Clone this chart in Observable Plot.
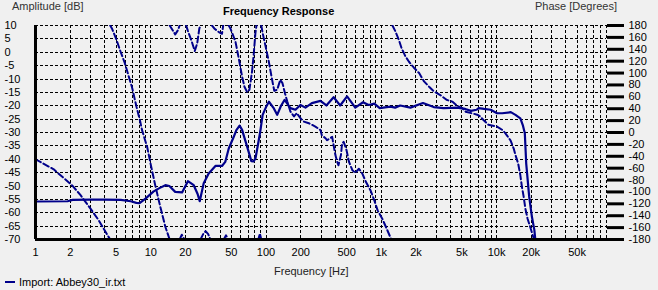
<!DOCTYPE html>
<html>
<head>
<meta charset="utf-8">
<script src="https://cdn.jsdelivr.net/npm/d3@7"></script>
<script src="https://cdn.jsdelivr.net/npm/@observablehq/plot@0.6"></script>
<style>
  html, body { margin: 0; padding: 0; background: #f0f0f0; }
  #wrap { position: relative; width: 658px; height: 290px; overflow: hidden; font-family: "Liberation Sans", Arial, sans-serif; color: #000; }
  #wrap svg { position: absolute; left: 0; top: 0; background: #f0f0f0; }
  .lbl { position: absolute; font-size: 11px; white-space: nowrap; line-height: 13px; }
</style>
</head>
<body>
<div id="wrap">
  <div class="lbl" style="left:12px; top:0px; color:#333;">Amplitude [dB]</div>
  <div class="lbl" style="left:223px; top:5px; font-weight:bold;">Frequency Response</div>
  <div class="lbl" style="left:535px; top:0px; color:#333;">Phase [Degrees]</div>
  <div class="lbl" style="left:274px; top:265px; color:#222;">Frequency [Hz]</div>
  <div style="position:absolute; left:5px; top:281px; width:10px; height:2px; background:#00008b;"></div>
  <div class="lbl" style="left:19px; top:276px;">Import: Abbey30_ir.txt</div>
</div>
<script>
// ---- data ----
const ampFreq = [1, 1.9, 2.1, 3, 4, 5.5, 6.7, 7.5, 8, 9, 10.6, 12, 13.4, 14.5, 16.3, 18.7, 21, 23.6, 25.5, 26.6, 28.8, 31.8, 36.4, 41.5, 44.3, 47.5, 52.5, 55.3, 59, 62, 70, 74.6, 78, 81, 86.5, 89.5, 93.5, 100, 106, 117, 125, 135, 145, 163, 180, 199, 220, 250, 297, 334, 386, 440, 505, 595, 695, 777, 870, 970, 1200, 1320, 1460, 1790, 2300, 2850, 3480, 4530, 5350, 6000, 6700, 7000, 7800, 8900, 10100, 11200, 13300, 14600, 16100, 16900, 17600, 18100, 19200, 20300, 21300, 21700];
const ampDb = [-55.8, -55.7, -55.2, -55.1, -55.1, -55.2, -55.7, -56.3, -56.4, -54.7, -52, -50.7, -49.7, -50, -52.2, -52.4, -48.2, -49.7, -53, -55.7, -49, -45.3, -42.5, -42.5, -41, -36, -31.6, -29.1, -27.4, -29, -36.6, -40.7, -40.8, -39.7, -32.9, -29.1, -23.4, -20.5, -18.5, -21, -23.4, -20, -17.8, -20.9, -21.5, -19.7, -20.7, -19, -18.2, -19.9, -16.8, -19.9, -16.5, -20.7, -18.7, -19.7, -19.2, -20.9, -20.3, -20.7, -19.9, -20.7, -19, -20.5, -20.9, -20.7, -21.2, -21.9, -21.5, -20.9, -21.2, -21.5, -22.8, -22.8, -22.4, -23.4, -24.7, -27.2, -30.3, -41.6, -54, -61.6, -66.5, -70];

// phase in degrees, wrapped to [-180, 180]; null separates the wrapped pieces
const phaseFreq = [
  1, 1.44, 2.08, 2.45, 3.0, 3.54, 4.32, 4.45, null,
  4.45, 4.63, 5.04, 5.47, 5.95, 6.45, 6.9, 7.5, 8.1, 8.4, 9.3, 10.1, 11.0, 12.1, 13.4, 14.6, null,
  14.6, 15.5, 16.3, 17.2, 17.8, null,
  17.8, 18.6, 19.6, null,
  20.3, 21, 22.5, 24.1, 25.3, 26.4, 27, null,
  27, 28.5, 29.9, 31.5, 33, null,
  34, 36, 39, 41.5, 42.5, null,
  43, 45, 47, null,
  47.5, 49.1, 54.3, 58, 62, 65, 68.6, 71.8, 75.7, 78.2, 80.9, 82.6, null,
  82.6, 86, 88.5, 91, null,
  91, 93.6, 98.6, 105.8, 113, 118, 125, 133, 139, 146, 153, 163, 175, 185, 199, 212, 235, 268, 297, 305, 330, 338, 375, 388, 400, 415, 425, 447, 457, 472, 500, 525, 560, 595, 640, 685, 735, 805, 870, 930, 1020, 1110, 1210, 1240, null,
  1250, 1320, 1420, 1500, 1620, 1740, 1920, 2130, 2350, 2600, 2860, 3250, 3680, 4130, 4550, 5050, 5400, 6800, 7200, 7700, 8500, 10100, 11200, 11900, 13200, 14100, 14600, 15400, 16100, 16600, 17200, 17800, 18600, 19600, 21000, 21300
];
const phaseDeg = [
  -45, -62, -89, -105, -128, -148, -176, -180, null,
  180, 174, 156, 136, 117, 94, 75, 44, 18.5, 4, -24, -58, -91, -125, -159, -180, null,
  180, 172, 165, 172, 180, null,
  -180, -172, -180, null,
  180, 171, 155, 137, 150, 175, 180, null,
  -180, -171, -166, -171, -180, null,
  180, 174, 169, 166, 180, null,
  -180, -173, -180, null,
  180, 175, 153, 125, 94, 77, 68, 72, 103, 131, 167, 180, null,
  -180, -179, -170, -180, null,
  180, 167, 147, 119, 88.5, 70, 72, 88.5, 83, 66, 52, 35, 27, 32.5, 24, 18.5, 15.6, 10, 4, -4.6, -10, -13, -7.4, -24, -38, -49.5, -55, -38, -18.5, -15.8, -30, -49.5, -63, -68, -61, -69, -83, -97, -114, -131, -145, -161, -178, -180, null,
  180, 171, 156, 142, 128, 119, 109, 100, 86, 77, 69, 63, 55, 52, 45, 41, 35, 30, 27, 21, 13, 10, 4.4, -1, -13, -27, -38, -52, -72, -91, -108, -128, -145, -159, -178, -180
];

const ampTicks = [-70, -65, -60, -55, -50, -45, -40, -35, -30, -25, -20, -15, -10, -5, 0, 5, 10];
const phaseTicks = [-180, -160, -140, -120, -100, -80, -60, -40, -20, 0, 20, 40, 60, 80, 100, 120, 140, 160, 180];
const freqTicks = [1, 2, 5, 10, 20, 50, 100, 200, 500, 1000, 2000, 5000, 10000, 20000, 50000];
const freqLabels = ["1", "2", "5", "10", "20", "50", "100", "200", "500", "1k", "2k", "5k", "10k", "20k", "50k"];
const freqDomain = [1, 90000];
const ampDomain = [-70, 10];
const phaseDomain = [-180, 180];

// ---- build tables ----
const amp = ampFreq.map((f, i) => ({f, v: ampDb[i]}));
// map phase degrees onto the amplitude axis (dual axis)
const phaseToDb = d => d == null ? NaN :
  ampDomain[0] + (d - phaseDomain[0]) * (ampDomain[1] - ampDomain[0]) / (phaseDomain[1] - phaseDomain[0]);
const dbToPhase = v => phaseDomain[0] + (v - ampDomain[0]) * (phaseDomain[1] - phaseDomain[0]) / (ampDomain[1] - ampDomain[0]);
const phase = phaseFreq.map((f, i) => ({f: f == null ? NaN : f, v: phaseToDb(phaseDeg[i])}));
const xLabels = freqTicks.map((f, i) => ({f, t: freqLabels[i]}));

const gridXs = d3.scaleLog().domain(freqDomain).ticks();
const navy = "#00008b";
const font = "Liberation Sans, Arial, sans-serif";

const chart = Plot.plot({
  width: 658,
  height: 290,
  marginLeft: 35,
  marginRight: 52,
  marginTop: 25,
  marginBottom: 51,
  style: {background: "#f0f0f0", fontFamily: font, fontSize: "11px", color: "#000"},
  x: {type: "log", domain: freqDomain, label: null, axis: null},
  y: {domain: ampDomain, label: null},
  marks: [
    Plot.gridX(gridXs, {stroke: "#000", strokeOpacity: 1, strokeDasharray: "3,2", shapeRendering: "crispEdges"}),
    Plot.gridY(ampTicks.slice(1), {stroke: "#000", strokeOpacity: 1, strokeDasharray: "3,2", shapeRendering: "crispEdges"}),
    Plot.line(phase, {x: "f", y: "v", stroke: navy, strokeWidth: 2, strokeDasharray: "6,3", clip: true}),
    Plot.line(amp, {x: "f", y: "v", stroke: navy, strokeWidth: 2.2, clip: true}),
    Plot.ruleX([freqDomain[0]], {stroke: "#000", strokeWidth: 3}),
    Plot.ruleY([ampDomain[0]], {stroke: "#000", strokeWidth: 3, insetRight: -17}),
    Plot.axisY(ampTicks, {anchor: "left", label: null, tickSize: 0, tickPadding: 31, textAnchor: "start", tickFormat: d => String(d), fill: "#000", fontSize: 11}),
    Plot.axisY(phaseTicks.map(phaseToDb), {anchor: "right", label: null, tickSize: 17, tickPadding: 5, strokeWidth: 3, stroke: "#000", tickFormat: v => String(Math.round(dbToPhase(v))), fill: "#000", fontSize: 11}),
    Plot.text(xLabels, {x: "f", text: "t", frameAnchor: "bottom", dy: 16, fill: "#000", fontSize: 11})
  ]
});
document.getElementById("wrap").prepend(chart);
</script>
</body>
</html>
